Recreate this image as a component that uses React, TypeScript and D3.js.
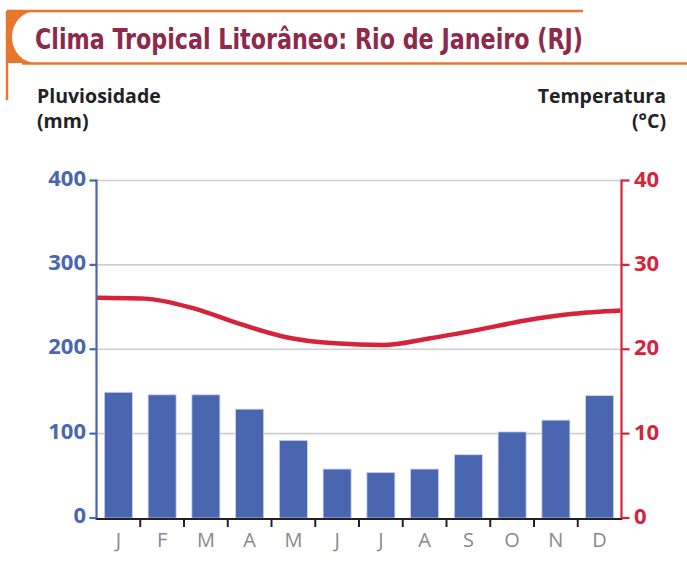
import React from "react";
import * as d3 from "d3";

const months = ["J", "F", "M", "A", "M", "J", "J", "A", "S", "O", "N", "D"];
const rainfall = [149, 146, 146, 129, 92, 58, 54, 58, 75, 102, 116, 145];
const temperature = [26.1, 26.0, 24.9, 23.0, 21.4, 20.7, 20.5, 21.3, 22.3, 23.4, 24.2, 24.6];
const rainTicks = [0, 100, 200, 300, 400];
const tempTicks = [0, 10, 20, 30, 40];
const title = "Clima Tropical Litorâneo: Rio de Janeiro (RJ)";

const W = 687;
const H = 570;
const X0 = 96.5;
const X1 = 621.5;
const Y0 = 518;
const Y1 = 180.5;

const BLUE = "#4A66B1";
const RED = "#D6233C";
const ORANGE = "#E8772E";

export default function App() {
  const idx = months.map((_, i) => i);
  const xBand = d3.scaleBand<number>().domain(idx).range([X0, X1]).paddingInner(0.36).paddingOuter(0.18);
  const xPoint = d3.scalePoint<number>().domain(idx).range([X0 + 0.5, X1 - 1]);
  const yRain = d3.scaleLinear().domain([0, 400]).range([Y0, Y1]);
  const yTemp = d3.scaleLinear().domain([0, 40]).range([Y0, Y1]);
  const line = d3
    .line<number>()
    .x((_, i) => xPoint(i)!)
    .y((d) => yTemp(d))
    .curve(d3.curveMonotoneX);
  const step = xBand.step();
  const boundaries = idx.slice(1).map((i) => xBand(i)! - (step - xBand.bandwidth()) / 2);
  const font = "'Open Sans', 'Noto Sans', sans-serif";

  return (
    <div style={{ position: "absolute", left: 0, top: 0 }}>
      <svg width={W} height={H} style={{ display: "block", background: "#fff" }}>
        {/* title frame */}
        <path d={`M7,11 H583 M7,11 V100`} stroke={ORANGE} strokeWidth={2.5} fill="none" />
        <path d={`M7,11 H36 A24,26 0 0 0 12,37 V38 A24,26 0 0 0 36,63 H7 Z`} fill={ORANGE} />
        <path d={`M22,63.5 H687`} stroke={ORANGE} strokeWidth={2.5} fill="none" />
        <text
          x={35}
          y={49}
          fontFamily="'Liberation Sans Narrow', 'DejaVu Sans Condensed', sans-serif"
          fontWeight={700}
          fontSize={29}
          fill="#8D2A4C"
          textLength={548}
          lengthAdjust="spacingAndGlyphs"
        >
          {title}
        </text>

        {/* axis titles */}
        <g fontFamily={font} fontWeight={700} fontSize={19.5} fill="#222">
          <text x={37} y={103}>Pluviosidade</text>
          <text x={37} y={128}>(mm)</text>
          <text x={666} y={103} textAnchor="end">Temperatura</text>
          <text x={666} y={128} textAnchor="end">(°C)</text>
        </g>

        {/* gridlines */}
        {rainTicks.filter((t) => t > 0).map((t) => (
          <line key={"g" + t} x1={X0} x2={X1} y1={yRain(t)} y2={yRain(t)} stroke="#cfcfcf" strokeWidth={1.6} />
        ))}

        {/* bars */}
        {rainfall.map((v, i) => (
          <rect
            key={"b" + i}
            x={xBand(i)}
            y={yRain(v)}
            width={xBand.bandwidth()}
            height={Y0 - yRain(v)}
            fill={BLUE}
            stroke="#c9d3ec"
            strokeWidth={0.8}
          />
        ))}

        {/* temperature line */}
        <path d={line(temperature)!} fill="none" stroke={RED} strokeWidth={4.5} strokeLinejoin="round" />

        {/* left axis */}
        <line x1={X0} x2={X0} y1={Y1 - 1} y2={Y0 + 2} stroke={BLUE} strokeWidth={2.2} />
        {rainTicks.map((t) => (
          <g key={"l" + t}>
            <line x1={X0 - 7} x2={X0} y1={yRain(t)} y2={yRain(t)} stroke={BLUE} strokeWidth={2.2} />
            <text x={86} y={yRain(t) + 5} textAnchor="end" fontFamily={font} fontWeight={700} fontSize={22} fill={BLUE}>
              {t}
            </text>
          </g>
        ))}

        {/* right axis */}
        <line x1={X1} x2={X1} y1={Y1 - 1} y2={Y0 + 2} stroke={RED} strokeWidth={2.2} />
        {tempTicks.map((t) => (
          <g key={"r" + t}>
            <line x1={X1} x2={X1 + 8} y1={yTemp(t)} y2={yTemp(t)} stroke={RED} strokeWidth={2.2} />
            <text x={634} y={yTemp(t) + 6} textAnchor="start" fontFamily={font} fontWeight={700} fontSize={22} fill={RED}>
              {t}
            </text>
          </g>
        ))}

        {/* bottom axis */}
        <line x1={X0} x2={X1} y1={Y0 + 1} y2={Y0 + 1} stroke="#222" strokeWidth={2.2} />
        {boundaries.map((bx, i) => (
          <line key={"t" + i} x1={bx} x2={bx} y1={Y0} y2={Y0 + 9} stroke="#222" strokeWidth={2} />
        ))}
        {months.map((m, i) => (
          <text
            key={"m" + i}
            x={xBand(i)! + xBand.bandwidth() / 2}
            y={547}
            textAnchor="middle"
            fontFamily={font}
            fontWeight={400}
            fontSize={20}
            fill="#8a8a8a"
          >
            {m}
          </text>
        ))}
      </svg>
    </div>
  );
}
